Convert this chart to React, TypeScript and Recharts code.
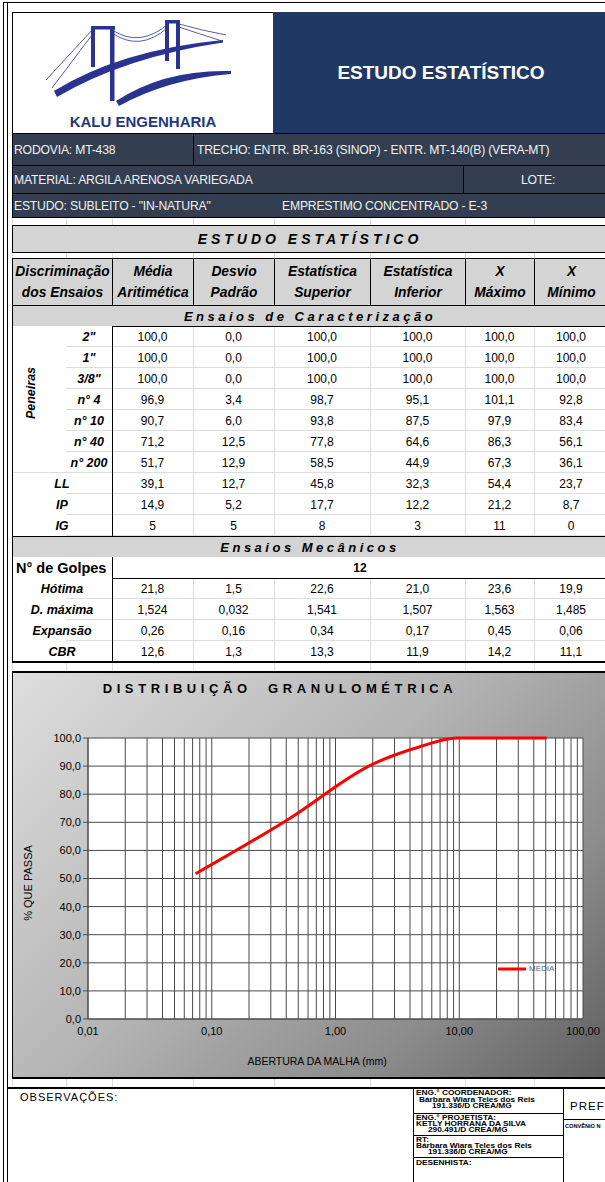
import React from "react";
import { LineChart, Line, XAxis, YAxis, CartesianGrid, Legend } from "recharts";

const sieveLabels = ['2"', '1"', '3/8"', "n° 4", "n° 10", "n° 40", "n° 200"];
const sieveSizes = [50.8, 25.4, 9.5, 4.8, 2.0, 0.42, 0.074];
const media = [100.0, 100.0, 100.0, 96.9, 90.7, 71.2, 51.7];
const desvio = [0.0, 0.0, 0.0, 3.4, 6.0, 12.5, 12.9];
const superior = [100.0, 100.0, 100.0, 98.7, 93.8, 77.8, 58.5];
const inferior = [100.0, 100.0, 100.0, 95.1, 87.5, 64.6, 44.9];
const maximo = [100.0, 100.0, 100.0, 101.1, 97.9, 86.3, 67.3];
const minimo = [100.0, 100.0, 100.0, 92.8, 83.4, 56.1, 36.1];

const limitLabels = ["LL", "IP", "IG"];
const limitValues = [
  [39.1, 12.7, 45.8, 32.3, 54.4, 23.7],
  [14.9, 5.2, 17.7, 12.2, 21.2, 8.7],
  [5, 5, 8, 3, 11, 0],
];
const limitDecimals = [1, 1, 0];

const golpes = 12;
const mechLabels = ["Hótima", "D. máxima", "Expansão", "CBR"];
const mechValues = [
  [21.8, 1.5, 22.6, 21.0, 23.6, 19.9],
  [1.524, 0.032, 1.541, 1.507, 1.563, 1.485],
  [0.26, 0.16, 0.34, 0.17, 0.45, 0.06],
  [12.6, 1.3, 13.3, 11.9, 14.2, 11.1],
];
const mechDecimals = [1, 3, 2, 1];

const colHeads = [
  ["Média", "Aritimética"],
  ["Desvio", "Padrão"],
  ["Estatística", "Superior"],
  ["Estatística", "Inferior"],
  ["X", "Máximo"],
  ["X", "Mínimo"],
];

const xTicks = [
  0.01, 0.02, 0.03, 0.04, 0.05, 0.06, 0.07, 0.08, 0.09,
  0.1, 0.2, 0.3, 0.4, 0.5, 0.6, 0.7, 0.8, 0.9,
  1, 2, 3, 4, 5, 6, 7, 8, 9,
  10, 20, 30, 40, 50, 60, 70, 80, 90, 100,
];
const xLabelTicks = [0.01, 0.1, 1, 10, 100];
const yTicks = [0, 10, 20, 30, 40, 50, 60, 70, 80, 90, 100];

const FONT = "Arial, 'Liberation Sans', Helvetica, sans-serif";
const fmt = (v: number, d: number) => v.toFixed(d).replace(".", ",");

// column edges of the table (page px)
const colX = [112, 193, 274, 370, 465, 534, 608];
const ROW = 21;

function Box({ x, y, w, h, style, children }: any) {
  return (
    <div
      style={{
        position: "absolute",
        left: x,
        top: y,
        width: w,
        height: h,
        boxSizing: "border-box",
        display: "flex",
        alignItems: "center",
        justifyContent: "center",
        whiteSpace: "nowrap",
        ...style,
      }}
    >
      {children}
    </div>
  );
}

const labelStyle = { fontWeight: 700, fontStyle: "italic", fontSize: 12.5 };

function ValueRow({ y, label, values, decimals, lx = 12, lw = 100 }: any) {
  return (
    <>
      <div style={{ position: "absolute", left: lx, top: y, width: lw, height: ROW, background: "#fff" }} />
      <div style={{ position: "absolute", left: 66, top: y + ROW - 1, width: 542, height: 1, background: "#dcdcdc" }} />
      <Box x={lx} y={y} w={lw} h={ROW} style={labelStyle}>{label}</Box>
      {values.map((v: number, i: number) => (
        <Box key={i} x={colX[i]} y={y} w={colX[i + 1] - colX[i]} h={ROW} style={{ fontSize: 12 }}>
          {fmt(v, decimals)}
        </Box>
      ))}
    </>
  );
}

function Banner({ y, h, text, size = 13, spacing = 3.5 }: any) {
  return (
    <Box
      x={12}
      y={y}
      w={600}
      h={h}
      style={{
        background: "#d4d4d4",
        border: "1px solid #000",
        fontWeight: 700,
        fontStyle: "italic",
        fontSize: size,
        letterSpacing: spacing,
        paddingRight: 4,
      }}
    >
      {text}
    </Box>
  );
}

function Logo() {
  const c = "#2b3390";
  return (
    <svg style={{ position: "absolute", left: 0, top: 0 }} width={280} height={135}>
      <g fill="none" stroke={c} strokeWidth={0.8}>
        <path d="M93 29 L46 80" />
        <path d="M95 31 L52 88" />
        <path d="M112 30 Q140 48 168 24" />
        <path d="M112 33 Q140 52 167 28" />
        <path d="M179 24 Q200 30 226 35" />
        <path d="M179 27 Q200 34 222 41" />
      </g>
      <g fill={c}>
        <rect x={91} y={26} width={24} height={3.5} />
        <rect x={91} y={26} width={4} height={41} />
        <rect x={110} y={26} width={4.5} height={75} />
        <rect x={165} y={20} width={15} height={3.5} />
        <rect x={165} y={20} width={4} height={41} />
        <rect x={176} y={20} width={4} height={49} />
        <path d="M54 91 Q120 50 223 40 L223 42.5 Q125 57 57 97 Z" />
        <path d="M116 101 Q165 69 231 71 L231 74 Q168 79 119 106 Z" />
      </g>
      <text x={143} y={127} textAnchor="middle" fontFamily={FONT} fontWeight={700} fontSize={15} fill="#1f3a7a">
        KALU ENGENHARIA
      </text>
    </svg>
  );
}

function LegendBox() {
  return (
    <div style={{ display: "flex", alignItems: "center", fontFamily: FONT, fontSize: 8, color: "#5a6a7a" }}>
      <svg width={28} height={4}>
        <line x1={0} y1={2} x2={28} y2={2} stroke="#ff0000" strokeWidth={3} />
      </svg>
      <span style={{ marginLeft: 3 }}>MÉDIA</span>
    </div>
  );
}

export default function App() {
  const chartData = sieveSizes.map((s, i) => ({ size: s, media: media[i] })).reverse();
  const sieveRows = sieveLabels.map((lab, i) => ({
    label: lab,
    values: [media[i], desvio[i], superior[i], inferior[i], maximo[i], minimo[i]],
  }));

  const bodyTop = 326;
  const mechTop = bodyTop + 10 * ROW; // Ensaios Mecânicos banner

  const infoRows = [
    { y: 133, h: 33 },
    { y: 165, h: 29 },
    { y: 193, h: 25 },
  ];

  return (
    <div style={{ position: "relative", width: 605, height: 1182, overflow: "hidden", background: "#fff", fontFamily: FONT, color: "#000" }}>
      <style>{"body{margin:0}"}</style>

      {/* sheet gridlines */}
      {[12, 66, 112, 193, 274, 370, 465, 534].map((x) => (
        <div key={x} style={{ position: "absolute", left: x, top: 217, width: 1, height: 871, background: "#dcdcdc" }} />
      ))}

      {/* page frame */}
      <div style={{ position: "absolute", left: 3, top: 2, width: 700, height: 1300, border: "1px solid #000" }} />
      <div style={{ position: "absolute", left: 7, top: 2, width: 1, height: 1190, background: "#000" }} />

      {/* header */}
      <div style={{ position: "absolute", left: 12, top: 12, width: 600, height: 122, border: "1px solid #000", background: "#fff" }} />
      <Logo />
      <Box x={273} y={12} w={340} h={122} style={{ background: "#1f3864", color: "#fff", fontWeight: 700, fontSize: 19, paddingRight: 4 }}>
        ESTUDO ESTATÍSTICO
      </Box>

      {infoRows.map((r, i) => (
        <div key={i} style={{ position: "absolute", left: 12, top: r.y, width: 600, height: r.h, background: "#333f50", border: "1px solid #000", boxSizing: "border-box" }} />
      ))}
      <div style={{ position: "absolute", left: 193, top: 133, width: 1, height: 32, background: "#000" }} />
      <div style={{ position: "absolute", left: 463, top: 165, width: 1, height: 28, background: "#000" }} />
      {[
        { x: 14, r: 0, t: "RODOVIA: MT-438" },
        { x: 197, r: 0, t: "TRECHO: ENTR. BR-163 (SINOP) - ENTR. MT-140(B) (VERA-MT)" },
        { x: 14, r: 1, t: "MATERIAL: ARGILA ARENOSA VARIEGADA" },
        { x: 521, r: 1, t: "LOTE:" },
        { x: 14, r: 2, t: 'ESTUDO: SUBLEITO - "IN-NATURA"' },
        { x: 282, r: 2, t: "EMPRESTIMO CONCENTRADO - E-3" },
      ].map((t, i) => (
        <Box key={i} x={t.x} y={infoRows[t.r].y} w={400} h={infoRows[t.r].h} style={{ justifyContent: "flex-start", color: "#eef0f3", fontSize: 12.2, letterSpacing: -0.2 }}>
          {t.t}
        </Box>
      ))}

      {/* table */}
      <Banner y={225} h={28} text="ESTUDO ESTATÍSTICO" size={14} spacing={4} />

      <Box x={12} y={258} w={101} h={48} style={{ background: "#d4d4d4", border: "1px solid #000", flexDirection: "column", ...labelStyle, fontSize: 13.8, lineHeight: "21px" }}>
        <span>Discriminação</span>
        <span>dos Ensaios</span>
      </Box>
      {colHeads.map((h, i) => (
        <Box
          key={i}
          x={colX[i]}
          y={258}
          w={colX[i + 1] - colX[i] + 1}
          h={48}
          style={{ background: "#d4d4d4", border: "1px solid #000", flexDirection: "column", ...labelStyle, fontSize: 13.8, lineHeight: "21px" }}
        >
          <span>{h[0]}</span>
          <span>{h[1]}</span>
        </Box>
      ))}

      <Banner y={305} h={22} text="Ensaios de Caracterização" />

      {sieveRows.map((r, i) => (
        <ValueRow key={i} y={bodyTop + i * ROW} label={r.label} values={r.values} decimals={1} lx={66} lw={46} />
      ))}
      <div style={{ position: "absolute", left: 12, top: bodyTop, width: 54, height: 7 * ROW, background: "#fff" }} />
      <div style={{ position: "absolute", left: 12, top: bodyTop + 7 * ROW - 1, width: 54, height: 1, background: "#dcdcdc" }} />
      <div
        style={{
          position: "absolute",
          left: 31,
          top: bodyTop + 3.2 * ROW,
          transform: "translate(-50%, -50%) rotate(-90deg)",
          ...labelStyle,
          whiteSpace: "nowrap",
        }}
      >
        Peneiras
      </div>

      {limitLabels.map((lab, i) => (
        <ValueRow key={lab} y={bodyTop + (7 + i) * ROW} label={lab} values={limitValues[i]} decimals={limitDecimals[i]} />
      ))}

      <Banner y={mechTop} h={22} text="Ensaios Mecânicos" />
      <div style={{ position: "absolute", left: 12, top: mechTop + ROW, width: 600, height: ROW + 1, background: "#fff", borderBottom: "1px solid #000", boxSizing: "border-box" }} />
      <Box x={16} y={mechTop + ROW} w={96} h={ROW} style={{ justifyContent: "flex-start", fontWeight: 700, fontSize: 14.5 }}>
        N° de Golpes
      </Box>
      <Box x={112} y={mechTop + ROW} w={496} h={ROW} style={{ fontWeight: 700, fontSize: 12 }}>
        {golpes}
      </Box>
      {mechLabels.map((lab, i) => (
        <ValueRow key={lab} y={mechTop + (2 + i) * ROW} label={lab} values={mechValues[i]} decimals={mechDecimals[i]} />
      ))}

      {/* table frame lines */}
      <div style={{ position: "absolute", left: 12, top: 305, width: 1, height: 357, background: "#000" }} />
      <div style={{ position: "absolute", left: 112, top: bodyTop, width: 1, height: 10 * ROW, background: "#000" }} />
      <div style={{ position: "absolute", left: 112, top: mechTop + ROW, width: 1, height: 5 * ROW, background: "#000" }} />
      <div style={{ position: "absolute", left: 12, top: 661, width: 600, height: 2, background: "#000" }} />

      {/* chart panel */}
      <div
        style={{
          position: "absolute",
          left: 12,
          top: 671,
          width: 600,
          height: 408,
          boxSizing: "border-box",
          borderTop: "2px solid #000",
          borderBottom: "2px solid #000",
          borderLeft: "1px solid #000",
          background: "linear-gradient(135deg, #dedede 0%, #b4b4b4 45%, #8c8c8c 75%, #5e5e5e 100%)",
        }}
      />
      <div
        style={{
          position: "absolute",
          left: 80,
          top: 681,
          width: 400,
          textAlign: "center",
          fontWeight: 700,
          fontSize: 13,
          letterSpacing: 4.6,
          wordSpacing: 8,
        }}
      >
        DISTRIBUIÇÃO GRANULOMÉTRICA
      </div>
      <div style={{ position: "absolute", left: 12, top: 672 }}>
        <LineChart width={596} height={406} data={chartData} margin={{ top: 66, right: 25, bottom: 20, left: 0 }}>
          <CartesianGrid stroke="#4a4a4a" fill="#ffffff" fillOpacity={1} />
          <XAxis
            dataKey="size"
            type="number"
            scale="log"
            domain={[0.01, 100]}
            allowDataOverflow
            ticks={xTicks}
            interval={0}
            tickLine={false}
            axisLine={{ stroke: "#4a4a4a" }}
            tick={{ fontSize: 11, fill: "#000", fontFamily: FONT }}
            tickFormatter={(v: number) => (xLabelTicks.includes(v) ? fmt(v, 2) : "")}
            height={30}
            label={{
              content: () => (
                <text x={305} y={393} textAnchor="middle" fontSize={10.5} fontFamily={FONT} fill="#000">
                  ABERTURA DA MALHA (mm)
                </text>
              ),
            }}
          />
          <YAxis
            type="number"
            domain={[0, 100]}
            ticks={yTicks}
            interval={0}
            width={76}
            tickSize={5}
            axisLine={{ stroke: "#4a4a4a" }}
            tickLine={{ stroke: "#4a4a4a" }}
            tick={{ fontSize: 11, fill: "#000", fontFamily: FONT }}
            tickFormatter={(v: number) => fmt(v, 1)}
            label={{
              content: () => (
                <text x={20} y={211} transform="rotate(-90 20 211)" textAnchor="middle" fontSize={11} fontFamily={FONT} fill="#000">
                  % QUE PASSA
                </text>
              ),
            }}
          />
          <Legend content={() => <LegendBox />} wrapperStyle={{ position: "absolute", left: 486, top: 292, width: "auto" }} />
          <Line type="monotone" dataKey="media" name="MÉDIA" stroke="#ff0000" strokeWidth={3} dot={false} isAnimationActive={false} />
        </LineChart>
      </div>

      {/* footer */}
      <div style={{ position: "absolute", left: 7, top: 1087, width: 600, height: 2, background: "#000" }} />
      <div style={{ position: "absolute", left: 20, top: 1091, fontSize: 11, letterSpacing: 1 }}>OBSERVAÇÕES:</div>
      <div style={{ position: "absolute", left: 413, top: 1088, width: 1, height: 94, background: "#000" }} />
      <div style={{ position: "absolute", left: 563, top: 1088, width: 1, height: 94, background: "#000" }} />
      {[1113, 1135, 1157].map((y) => (
        <div key={y} style={{ position: "absolute", left: 413, top: y, width: 150, height: 1, background: "#000" }} />
      ))}
      <div style={{ position: "absolute", left: 563, top: 1119, width: 50, height: 1, background: "#000" }} />
      {[
        { x: 416, y: 1089, t: "ENG.° COORDENADOR:" },
        { x: 419, y: 1096, t: "Bárbara Wiara Teles dos Reis" },
        { x: 432, y: 1102, t: "191.336/D CREA/MG" },
        { x: 416, y: 1114, t: "ENG.° PROJETISTA:" },
        { x: 416, y: 1120, t: "KETLY HORRANA DA SILVA" },
        { x: 428, y: 1126, t: "290.491/D CREA/MG" },
        { x: 416, y: 1136, t: "RT:" },
        { x: 416, y: 1142, t: "Bárbara Wiara Teles dos Reis" },
        { x: 428, y: 1148, t: "191.336/D CREA/MG" },
        { x: 416, y: 1159, t: "DESENHISTA:" },
      ].map((t, i) => (
        <div
          key={i}
          style={{
            position: "absolute",
            left: t.x,
            top: t.y,
            fontSize: 6.8,
            fontWeight: 700,
            lineHeight: "8px",
            whiteSpace: "nowrap",
            transform: "scaleX(1.22)",
            transformOrigin: "left center",
          }}
        >
          {t.t}
        </div>
      ))}
      <div style={{ position: "absolute", left: 570, top: 1100, fontSize: 11.5, letterSpacing: 1 }}>PREF</div>
      <div style={{ position: "absolute", left: 565, top: 1123, fontSize: 5.6, fontWeight: 700, whiteSpace: "nowrap" }}>
        CONVÊNIO N
      </div>
    </div>
  );
}
